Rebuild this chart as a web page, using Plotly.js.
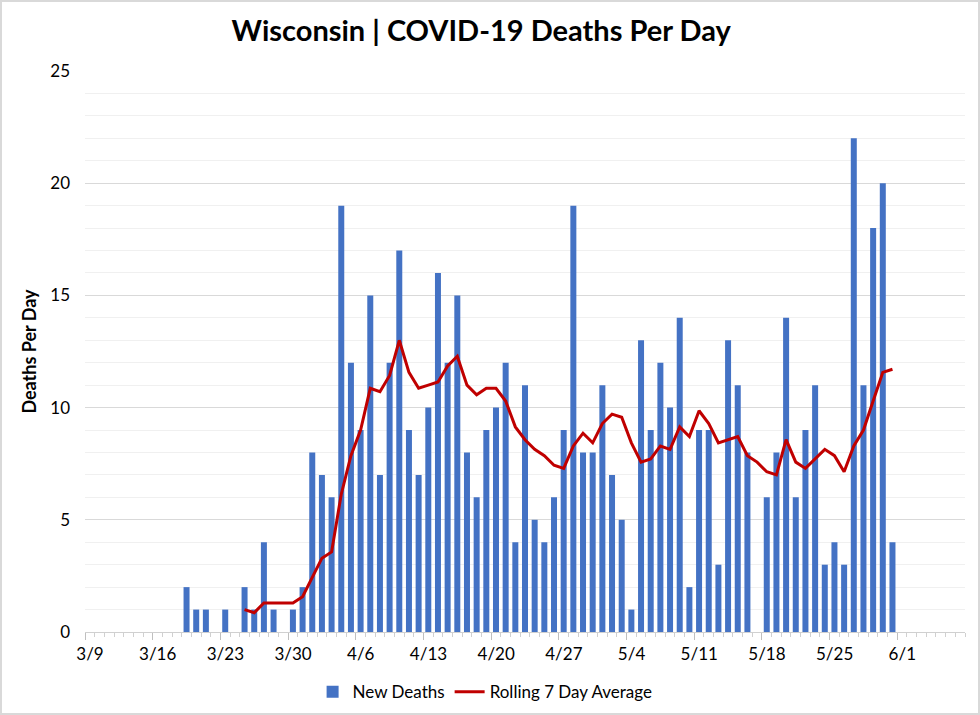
<!DOCTYPE html>
<html>
<head>
<meta charset="utf-8">
<script src="https://cdn.plot.ly/plotly-3.0.1.min.js"></script>
<style>
  html, body { margin: 0; padding: 0; background: #fff; }
  #wrap { position: relative; width: 980px; height: 715px; }
  #chart { width: 980px; height: 715px; }
  #frame { position: absolute; left: 0; top: 0; width: 980px; height: 715px; box-sizing: border-box; border: 2px solid #d9d9d9; pointer-events: none; }
</style>
</head>
<body>
<div id="wrap"><div id="chart"></div><div id="frame"></div></div>
<script>
// Dates (2020) from 3/19 to 5/31
const dates = [
  '2020-03-19','2020-03-20','2020-03-21','2020-03-22','2020-03-23','2020-03-24','2020-03-25','2020-03-26','2020-03-27','2020-03-28','2020-03-29','2020-03-30','2020-03-31',
  '2020-04-01','2020-04-02','2020-04-03','2020-04-04','2020-04-05','2020-04-06','2020-04-07','2020-04-08','2020-04-09','2020-04-10','2020-04-11','2020-04-12','2020-04-13','2020-04-14','2020-04-15','2020-04-16','2020-04-17','2020-04-18','2020-04-19','2020-04-20','2020-04-21','2020-04-22','2020-04-23','2020-04-24','2020-04-25','2020-04-26','2020-04-27','2020-04-28','2020-04-29','2020-04-30',
  '2020-05-01','2020-05-02','2020-05-03','2020-05-04','2020-05-05','2020-05-06','2020-05-07','2020-05-08','2020-05-09','2020-05-10','2020-05-11','2020-05-12','2020-05-13','2020-05-14','2020-05-15','2020-05-16','2020-05-17','2020-05-18','2020-05-19','2020-05-20','2020-05-21','2020-05-22','2020-05-23','2020-05-24','2020-05-25','2020-05-26','2020-05-27','2020-05-28','2020-05-29','2020-05-30','2020-05-31'
];
const newDeaths = [
  2,1,1,0,1,0,2,1,4,1,0,1,2,
  8,7,6,19,12,9,15,7,12,17,9,7,10,16,12,15,8,6,9,10,12,4,11,5,4,6,9,19,8,8,
  11,7,5,1,13,9,12,10,14,2,9,9,3,13,11,8,0,6,8,14,6,9,11,3,4,3,22,11,18,20,4
];
// Rolling average, starting 3/25
const avgDates = dates.slice(6);
const rollingAvg = [
  1.00,0.86,1.29,1.29,1.29,1.29,1.57,
  2.43,3.29,3.57,6.14,7.86,9.00,10.86,10.71,11.43,13.00,11.57,10.86,11.00,11.14,11.86,12.29,11.00,10.57,10.86,10.86,10.29,9.14,8.57,8.14,7.86,7.43,7.29,8.29,8.86,8.43,
  9.29,9.71,9.57,8.43,7.57,7.71,8.29,8.14,9.14,8.71,9.86,9.29,8.43,8.57,8.71,7.86,7.57,7.14,7.00,8.57,7.57,7.29,7.71,8.14,7.86,7.14,8.29,9.00,10.29,11.57,11.71
];
const tickDates = ['2020-03-09','2020-03-16','2020-03-23','2020-03-30','2020-04-06','2020-04-13','2020-04-20','2020-04-27','2020-05-04','2020-05-11','2020-05-18','2020-05-25','2020-06-01'];
const tickLabels = ['3/9','3/16','3/23','3/30','4/6','4/13','4/20','4/27','5/4','5/11','5/18','5/25','6/1'];

const HALF_DAY = 12 * 3600 * 1000;
const tickBoundaries = tickDates.map(d => new Date(new Date(d + 'T00:00:00Z').getTime() - HALF_DAY).toISOString().replace('T', ' ').replace('.000Z', ''));

const FONT = 'Lato, "Open Sans", sans-serif';

const traces = [
  {
    type: 'bar', name: 'New Deaths', x: dates, y: newDeaths,
    marker: { color: '#4472C4' }
  },
  {
    type: 'scatter', mode: 'lines', name: 'Rolling 7 Day Average', x: avgDates, y: rollingAvg,
    line: { color: '#C00000', width: 3 }
  }
];

const layout = {
  width: 980, height: 715,
  margin: { l: 85, r: 15, t: 71, b: 83 },
  paper_bgcolor: '#ffffff', plot_bgcolor: '#ffffff',
  font: { family: FONT, size: 16, color: '#404040' },
  title: {
    text: '<b>Wisconsin | COVID-19 Deaths Per Day</b>',
    font: { family: FONT, size: 29, color: '#000000' },
    xref: 'container', yref: 'container', x: 0.491, y: 0.957, xanchor: 'center', yanchor: 'middle'
  },
  bargap: 0.38,
  xaxis: {
    type: 'date',
    range: ['2020-03-08 12:00', '2020-06-07 12:00'],
    tickmode: 'array', tickvals: tickBoundaries, ticktext: tickLabels,
    ticklabelshift: 5,
    ticks: 'outside', ticklen: 7, tickcolor: '#bfbfbf', tickwidth: 1,
    minor: { tickmode: 'linear', tick0: '2020-03-08 12:00', dtick: 86400000, ticks: 'outside', ticklen: 4, tickcolor: '#d0d0d0', showgrid: false },
    showgrid: false, zeroline: false,
    showline: true, linecolor: '#d0d0d0', linewidth: 1,
    tickfont: { family: FONT, size: 17, color: '#000000' },
    fixedrange: true
  },
  yaxis: {
    range: [0, 25], tickmode: 'linear', tick0: 0, dtick: 5,
    showgrid: true, gridcolor: '#d9d9d9', gridwidth: 1,
    minor: { dtick: 1, showgrid: true, gridcolor: '#f0f0f0', gridwidth: 1 },
    zeroline: false, showline: false, ticks: '',
    ticklabelstandoff: 14,
    tickfont: { family: FONT, size: 17, color: '#000000' },
    title: { text: '<b>Deaths Per Day</b>', font: { family: FONT, size: 18, color: '#000000' }, standoff: 8 },
    fixedrange: true
  },
  showlegend: true,
  legend: {
    orientation: 'h', xref: 'container', yref: 'container',
    x: 0.495, y: 0.032, xanchor: 'center', yanchor: 'middle',
    font: { family: FONT, size: 17, color: '#000000' },
    traceorder: 'normal', itemwidth: 30
  }
};

Plotly.newPlot('chart', traces, layout, { displayModeBar: false, staticPlot: true });
</script>
</body>
</html>
